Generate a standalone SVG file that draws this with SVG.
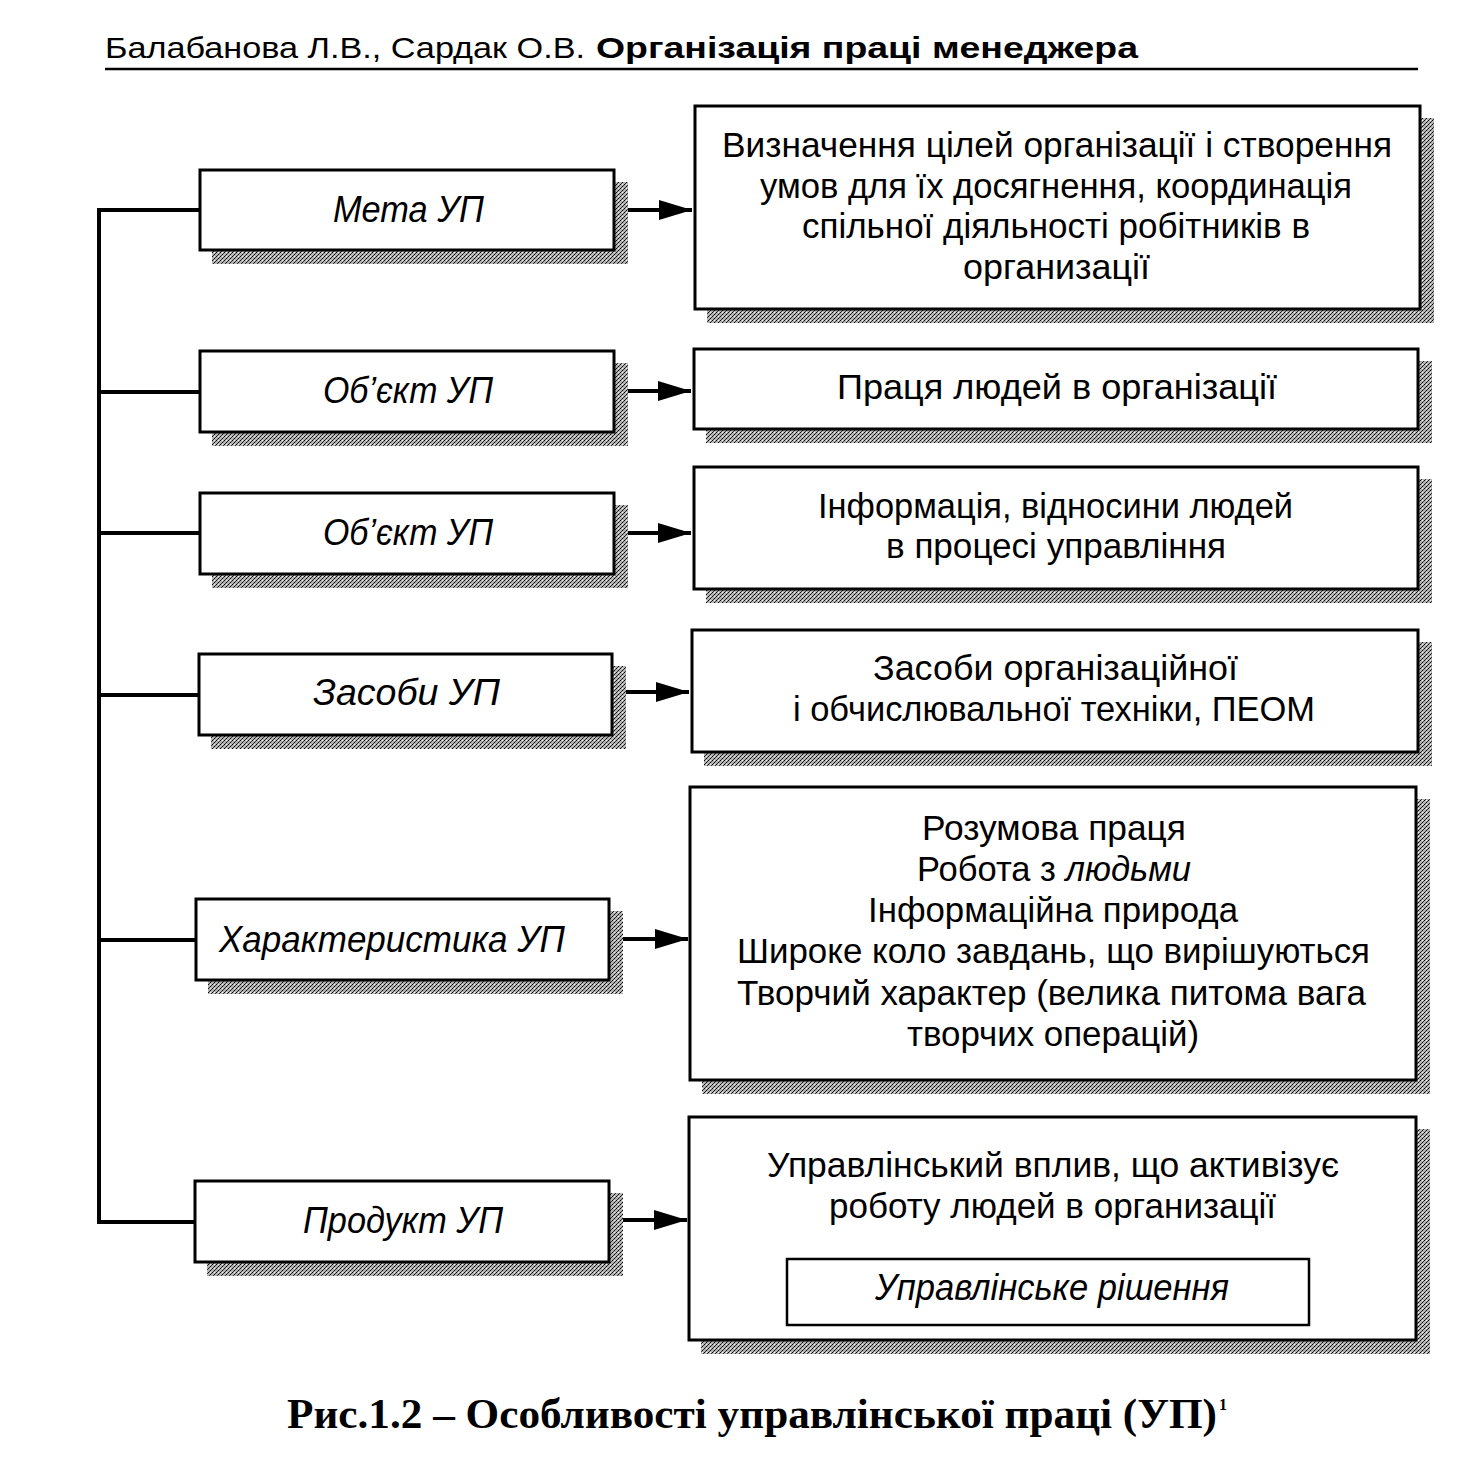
<svg xmlns="http://www.w3.org/2000/svg" width="1476" height="1460" viewBox="0 0 1476 1460">
<style>
.box{fill:#fff;stroke:#000;stroke-width:3}
.sh{fill:url(#dots)}
.t{font-family:"Liberation Sans",Arial,sans-serif;font-size:35px;fill:#000}
.li{font-family:"Liberation Sans",Arial,sans-serif;font-size:36px;font-style:italic;fill:#000}
.con{stroke:#000;stroke-width:4;fill:none}
</style>
<defs>
<pattern id="dots" width="4" height="4" patternUnits="userSpaceOnUse">
<rect width="4" height="4" fill="#b4b4b4"/>
<rect x="0" y="0" width="1" height="1" fill="#000"/>
<rect x="2" y="2" width="1" height="1" fill="#000"/>
<rect x="1" y="3" width="1" height="1" fill="#333"/>
<rect x="3" y="1" width="1" height="1" fill="#333"/>
<rect x="2" y="0" width="1" height="1" fill="#eee"/>
</pattern>
<marker id="ah" markerUnits="userSpaceOnUse" markerWidth="34" markerHeight="20" refX="33" refY="10" orient="auto">
<path d="M0,0 L33,10 L0,20 z" fill="#000"/>
</marker>
</defs>
<rect width="1476" height="1460" fill="#fff"/>

<g id="header">
<text x="105" y="58" font-family="'Liberation Sans',Arial,sans-serif" font-size="30" textLength="480" lengthAdjust="spacingAndGlyphs">Балабанова Л.В., Сардак О.В.</text>
<text x="596" y="58" font-family="'Liberation Sans',Arial,sans-serif" font-size="30" font-weight="bold" textLength="542" lengthAdjust="spacingAndGlyphs">Організація праці менеджера</text>
<line x1="105" y1="69" x2="1418" y2="69" stroke="#000" stroke-width="2.5"/>
</g>

<g id="connectors">
<polyline class="con" points="99,210 99,1223"/>
<line class="con" x1="97" y1="210" x2="200" y2="210"/>
<line class="con" x1="97" y1="392" x2="200" y2="392"/>
<line class="con" x1="97" y1="533" x2="200" y2="533"/>
<line class="con" x1="97" y1="695" x2="199" y2="695"/>
<line class="con" x1="97" y1="940" x2="196" y2="940"/>
<line class="con" x1="97" y1="1222" x2="195" y2="1222"/>
<line class="con" x1="624" y1="210" x2="692" y2="210" marker-end="url(#ah)"/>
<line class="con" x1="624" y1="391" x2="691" y2="391" marker-end="url(#ah)"/>
<line class="con" x1="624" y1="533" x2="691" y2="533" marker-end="url(#ah)"/>
<line class="con" x1="622" y1="692" x2="689" y2="692" marker-end="url(#ah)"/>
<line class="con" x1="619" y1="939" x2="688" y2="939" marker-end="url(#ah)"/>
<line class="con" x1="619" y1="1220" x2="687" y2="1220" marker-end="url(#ah)"/>
</g>

<g id="n-meta">
<rect class="sh" x="212" y="182" width="416" height="82"/>
<rect class="box" x="200" y="170" width="414" height="80"/>
<text class="li" x="333" y="222" textLength="151" lengthAdjust="spacingAndGlyphs">Мета УП</text>
</g>
<g id="n-obiekt1">
<rect class="sh" x="212" y="363" width="416" height="83"/>
<rect class="box" x="200" y="351" width="414" height="81"/>
<text class="li" x="323" y="403" textLength="170" lengthAdjust="spacingAndGlyphs">Об’єкт УП</text>
</g>
<g id="n-obiekt2">
<rect class="sh" x="212" y="505" width="416" height="83"/>
<rect class="box" x="200" y="493" width="414" height="81"/>
<text class="li" x="323" y="545" textLength="170" lengthAdjust="spacingAndGlyphs">Об’єкт УП</text>
</g>
<g id="n-zasoby">
<rect class="sh" x="211" y="666" width="415" height="83"/>
<rect class="box" x="199" y="654" width="413" height="81"/>
<text class="li" x="313" y="705" textLength="187" lengthAdjust="spacingAndGlyphs">Засоби УП</text>
</g>
<g id="n-kharakt">
<rect class="sh" x="208" y="911" width="415" height="83"/>
<rect class="box" x="196" y="899" width="413" height="81"/>
<text class="li" x="219" y="952" textLength="346" lengthAdjust="spacingAndGlyphs">Характеристика УП</text>
</g>
<g id="n-produkt">
<rect class="sh" x="207" y="1193" width="416" height="83"/>
<rect class="box" x="195" y="1181" width="414" height="81"/>
<text class="li" x="303" y="1233" textLength="200" lengthAdjust="spacingAndGlyphs">Продукт УП</text>
</g>

<g id="r-meta">
<rect class="sh" x="707" y="118" width="727" height="205"/>
<rect class="box" x="695" y="106" width="725" height="203"/>
<text class="t" x="722" y="157" textLength="670" lengthAdjust="spacingAndGlyphs">Визначення цілей організації і створення</text>
<text class="t" x="760" y="198" textLength="592" lengthAdjust="spacingAndGlyphs">умов для їх досягнення, координація</text>
<text class="t" x="802" y="238" textLength="508" lengthAdjust="spacingAndGlyphs">спільної діяльності робітників в</text>
<text class="t" x="963" y="279" textLength="187" lengthAdjust="spacingAndGlyphs">организації</text>
</g>
<g id="r-obiekt1">
<rect class="sh" x="706" y="361" width="726" height="82"/>
<rect class="box" x="694" y="349" width="724" height="80"/>
<text class="t" x="837" y="399" textLength="440" lengthAdjust="spacingAndGlyphs">Праця людей в організації</text>
</g>
<g id="r-obiekt2">
<rect class="sh" x="706" y="479" width="726" height="124"/>
<rect class="box" x="694" y="467" width="724" height="122"/>
<text class="t" x="818" y="518" textLength="475" lengthAdjust="spacingAndGlyphs">Інформація, відносини людей</text>
<text class="t" x="886" y="558" textLength="340" lengthAdjust="spacingAndGlyphs">в процесі управління</text>
</g>
<g id="r-zasoby">
<rect class="sh" x="704" y="642" width="728" height="124"/>
<rect class="box" x="692" y="630" width="726" height="122"/>
<text class="t" x="873" y="680" textLength="365" lengthAdjust="spacingAndGlyphs">Засоби організаційної</text>
<text class="t" x="793" y="721" textLength="522" lengthAdjust="spacingAndGlyphs">і обчислювальної техніки, ПЕОМ</text>
</g>
<g id="r-kharakt">
<rect class="sh" x="702" y="799" width="728" height="295"/>
<rect class="box" x="690" y="787" width="726" height="293"/>
<text class="t" x="922" y="840" textLength="264" lengthAdjust="spacingAndGlyphs">Розумова праця</text>
<text class="t" x="917" y="881" textLength="274" lengthAdjust="spacingAndGlyphs">Робота з <tspan font-style="italic">людьми</tspan></text>
<text class="t" x="868" y="922" textLength="370" lengthAdjust="spacingAndGlyphs">Інформаційна природа</text>
<text class="t" x="737" y="963" textLength="633" lengthAdjust="spacingAndGlyphs">Широке коло завдань, що вирішуються</text>
<text class="t" x="737" y="1005" textLength="629" lengthAdjust="spacingAndGlyphs">Творчий характер (велика питома вага</text>
<text class="t" x="907" y="1046" textLength="292" lengthAdjust="spacingAndGlyphs">творчих операцій)</text>
</g>
<g id="r-produkt">
<rect class="sh" x="701" y="1129" width="729" height="225"/>
<rect class="box" x="689" y="1117" width="727" height="223"/>
<text class="t" x="767" y="1177" textLength="572" lengthAdjust="spacingAndGlyphs">Управлінський вплив, що активізує</text>
<text class="t" x="829" y="1218" textLength="447" lengthAdjust="spacingAndGlyphs">роботу людей в организації</text>
<g id="r-rishennia">
<rect x="787" y="1259" width="522" height="66" fill="#fff" stroke="#000" stroke-width="2.5"/>
<text class="li" x="875" y="1300" font-size="34" textLength="354" lengthAdjust="spacingAndGlyphs">Управлінське рішення</text>
</g>
</g>

<g id="caption">
<text x="287" y="1428" font-family="'Liberation Serif','Times New Roman',serif" font-size="43" font-weight="bold" textLength="930" lengthAdjust="spacingAndGlyphs">Рис.1.2 – Особливості управлінської праці (УП)</text>
<text x="1219" y="1410" font-family="'Liberation Serif','Times New Roman',serif" font-size="16" font-weight="bold">1</text>
</g>
</svg>
